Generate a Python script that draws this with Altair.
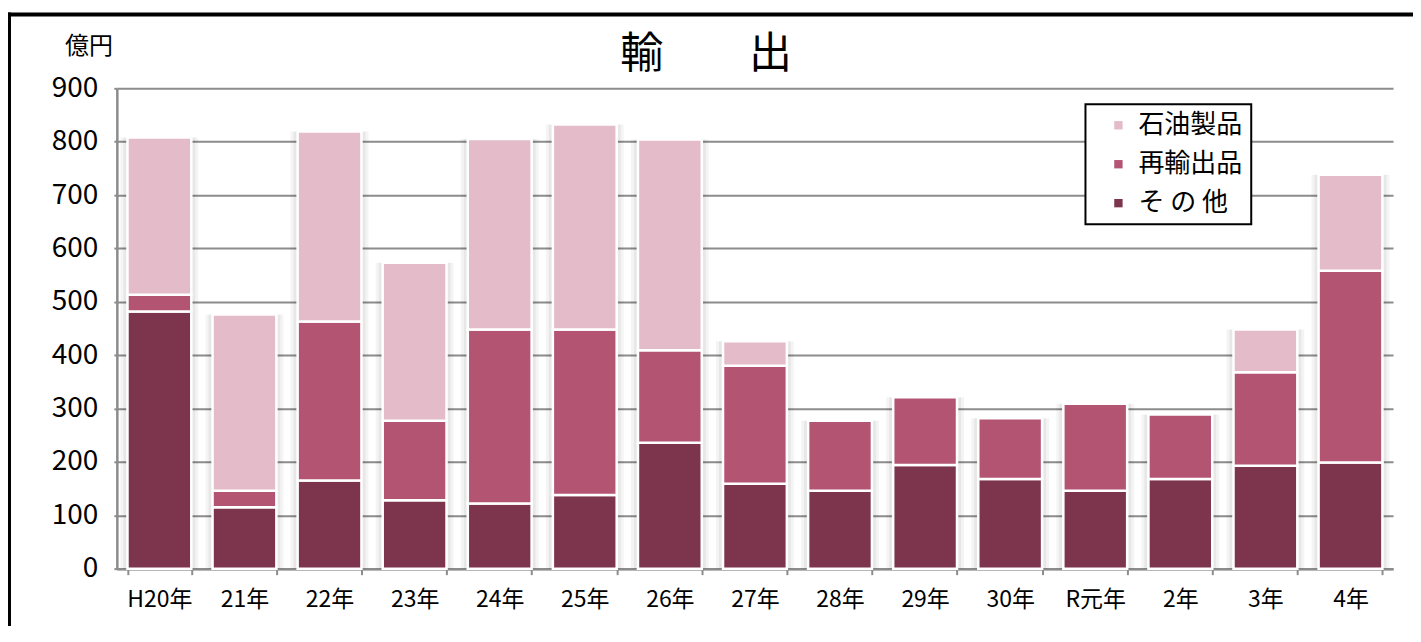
import altair as alt
import pandas as pd

categories = ["H20年", "21年", "22年", "23年", "24年", "25年", "26年", "27年",
              "28年", "29年", "30年", "R元年", "2年", "3年", "4年"]
sonota = [482, 115, 165, 128, 122, 138, 236, 159, 146, 194, 168, 146, 168, 193, 199]
saiyushutsu = [31, 31, 298, 149, 326, 310, 173, 221, 131, 127, 114, 163, 121, 175, 359]
sekiyu = [295, 330, 356, 296, 357, 384, 395, 46, 0, 0, 0, 0, 0, 80, 180]

series_names = ["石油製品", "再輸出品", "そ の 他"]
series_colors = ["#E3BBC9", "#B35473", "#7D344D"]
stack_rank = {"そ の 他": 1, "再輸出品": 2, "石油製品": 3}

title_text = "輸　　出"
unit_text = "億円"

rows = []
for i, c in enumerate(categories):
    for name, vals in (("そ の 他", sonota), ("再輸出品", saiyushutsu), ("石油製品", sekiyu)):
        rows.append({"cat": c, "series": name, "value": vals[i], "rank": stack_rank[name]})
df = pd.DataFrame(rows)

LABEL_FONT = "Liberation Sans Narrow, Noto Sans CJK JP"
CJK_FONT = "Noto Sans CJK JP"
W, H = 1278, 481

x_enc = alt.X("cat:N", sort=categories, title=None,
              scale=alt.Scale(paddingInner=0.25, paddingOuter=0.125),
              axis=alt.Axis(labelAngle=0, labelFont=LABEL_FONT, labelFontSize=23,
                            labelColor="black", labelPadding=14, tickBand="extent",
                            tickSize=6, tickWidth=2, tickColor="#8c8c8c",
                            domainColor="#8c8c8c", domainWidth=2.5, grid=False))
y_scale = alt.Scale(domain=[0, 900], nice=False)

base = alt.Chart(df)

shadow_outer = base.transform_aggregate(total="sum(value)", groupby=["cat"]).mark_bar(
    color="black", opacity=0.045, width=78
).encode(x=x_enc, y=alt.Y("total:Q", scale=y_scale, title=None))

shadow_inner = base.transform_aggregate(total="sum(value)", groupby=["cat"]).mark_bar(
    color="black", opacity=0.05, width=72
).encode(x=x_enc, y=alt.Y("total:Q", scale=y_scale, title=None))

bars = base.transform_filter("datum.value > 0").mark_bar(
    stroke="white", strokeWidth=2.5
).encode(
    x=x_enc,
    y=alt.Y("value:Q", stack="zero", title=None, scale=y_scale,
            axis=alt.Axis(values=list(range(0, 901, 100)), labelFont=LABEL_FONT,
                          labelFontSize=28, labelColor="black", labelPadding=16,
                          tickSize=3, tickWidth=2, tickColor="#8c8c8c",
                          domainColor="#8c8c8c", domainWidth=2.5,
                          grid=True, gridColor="#8c8c8c", gridWidth=2)),
    color=alt.Color("series:N", scale=alt.Scale(domain=series_names, range=series_colors),
                    legend=alt.Legend(title=None, orient="none", legendX=970, legendY=16,
                                      symbolType="square", symbolSize=70,
                                      symbolStrokeWidth=0, symbolOffset=12,
                                      labelFont=CJK_FONT, labelFontSize=26,
                                      labelColor="black", labelOffset=7,
                                      rowPadding=13, padding=8,
                                      strokeColor="black", fillColor="white")),
    order=alt.Order("rank:Q", sort="ascending"),
)

deco = alt.Data(values=[{"t": title_text, "u": unit_text}])

title = alt.Chart(deco).mark_text(font=CJK_FONT, fontSize=43, color="black",
                                  align="center", baseline="middle").encode(
    x=alt.value(590), y=alt.value(-33), text="t:N")

unit = alt.Chart(deco).mark_text(font=CJK_FONT, fontSize=24, color="black",
                                 align="center", baseline="middle").encode(
    x=alt.value(-28), y=alt.value(-41), text="u:N")

frame_left = alt.Chart(deco).mark_rule(color="black", strokeWidth=4).encode(
    x=alt.value(-108), y=alt.value(-76), y2=alt.value(H + 70))
frame_top = alt.Chart(deco).mark_rule(color="black", strokeWidth=4).encode(
    x=alt.value(-110), x2=alt.value(W + 30), y=alt.value(-74))

chart = alt.layer(frame_left, frame_top, shadow_outer, shadow_inner, bars, title, unit).properties(
    width=W, height=H,
    padding={"left": 109, "top": 80, "right": 20, "bottom": 57},
    autosize=alt.AutoSizeParams(type="none"),
    background="white",
).configure_view(stroke=None).configure_legend(strokeWidth=2)

chart.save("out.html", embed_options={"renderer": "svg", "actions": False})
